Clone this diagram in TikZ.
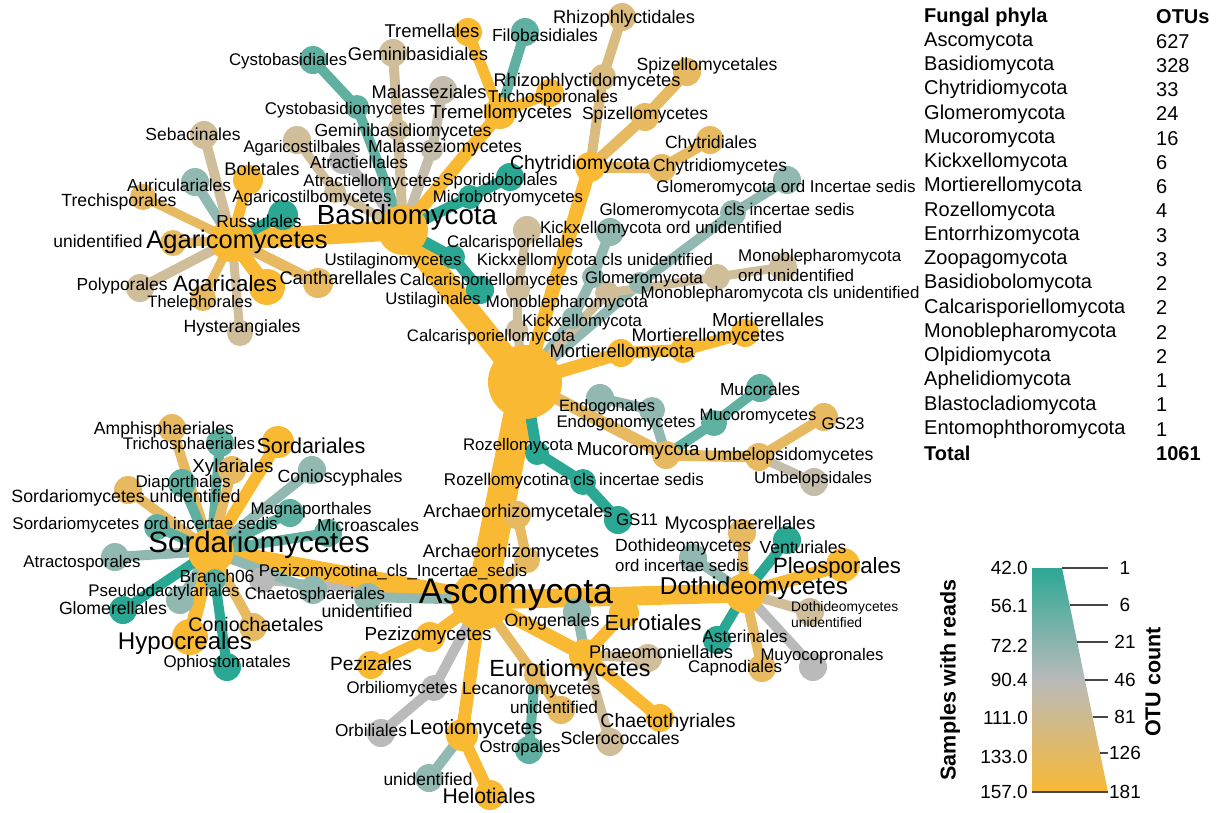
\documentclass[tikz,border=0pt]{standalone}
\usepackage{fontspec}
\usepackage{graphicx}
\setmainfont{Liberation Sans}
\definecolor{cA}{RGB}{42,168,148}
\definecolor{cB}{RGB}{95,176,160}
\definecolor{cC}{RGB}{145,184,177}
\definecolor{cD}{RGB}{186,186,186}
\definecolor{cDE}{RGB}{197,189,172}
\definecolor{cE}{RGB}{208,190,155}
\definecolor{cEF}{RGB}{218,188,128}
\definecolor{cF}{RGB}{231,186,98}
\definecolor{cG}{RGB}{249,185,50}
\definecolor{tick}{RGB}{70,70,70}
\pgfdeclarelayer{bg}
\pgfsetlayers{bg,main}
\newcommand{\TN}[5]{\node[circle,fill=#5,inner sep=0pt,minimum size=#4pt] (#1) at (#2,#3) {};}
\newcommand{\TE}[4]{\draw[line width=#4pt,#3] (#1.center) -- (#2.center);}
\newcommand{\TL}[5]{\node[inner sep=0pt] (#1) at (#2,#3) {\resizebox{#4pt}{!}{#5\vphantom{Ag}}};}
\newcommand{\TW}[5]{\node[inner sep=0pt,anchor=west] (#1) at (#2,#3) {\resizebox{#4pt}{!}{#5\vphantom{Ag}}};}
\tikzset{tb/.style={anchor=west,inner sep=0pt,font=\fontsize{20}{24}\selectfont},
  tbb/.style={tb,font=\fontsize{20}{24}\selectfont\bfseries},
  lg/.style={inner sep=0pt,font=\fontsize{19}{22}\selectfont},
  tk/.style={draw=tick,line width=1.6pt}}
\begin{document}
\begin{tikzpicture}[x=1pt,y=-1pt]
\useasboundingbox (0,0) rectangle (1217,812);
% ---------- tree nodes ----------
\TN{root}{525}{382}{74}{cG}
\TN{basi}{403}{230}{50}{cG}
\TN{asco}{481}{600}{60}{cG}
\TN{chyt}{590}{167}{30}{cG}
\TN{glom}{640}{283}{22}{cC}
\TN{kick}{573}{318}{22}{cC}
\TN{calc}{517}{330}{22}{cE}
\TN{mono}{607}{293}{24}{cE}
\TN{mort}{621}{353}{28}{cG}
\TN{muco}{666}{455}{28}{cF}
\TN{roze}{537}{453}{24}{cA}
% Basidiomycota
\TN{agcm}{232}{240}{44}{cG}
\TN{cysm}{357}{107}{24}{cB}
\TN{cysd}{313}{60}{28}{cB}
\TN{gemm}{398}{130}{22}{cE}
\TN{gemd}{393}{53}{28}{cE}
\TN{malm}{432}{150}{22}{cDE}
\TN{mald}{443}{90}{28}{cDE}
\TN{atrm}{372}{190}{24}{cD}
\TN{atrd}{343}{160}{28}{cD}
\TN{agsm}{335}{192}{22}{cE}
\TN{agsd}{297}{140}{28}{cE}
\TN{trem}{500}{113}{32}{cG}
\TN{tred}{468}{32}{28}{cG}
\TN{filo}{525}{32}{28}{cB}
\TN{tric}{550}{93}{28}{cG}
\TN{micm}{470}{197}{24}{cA}
\TN{spor}{510}{177}{28}{cA}
\TN{ustm}{453}{257}{24}{cA}
\TN{ustd}{480}{290}{28}{cA}
\TN{russ}{283}{215}{30}{cA}
\TN{bole}{248}{180}{30}{cG}
\TN{auri}{195}{182}{28}{cC}
\TN{seba}{204}{135}{28}{cE}
\TN{trec}{143}{197}{26}{cF}
\TN{agun}{173}{243}{26}{cF}
\TN{poly}{140}{288}{28}{cE}
\TN{agal}{267}{287}{36}{cG}
\TN{thel}{203}{298}{26}{cF}
\TN{hyst}{240}{333}{26}{cE}
\TN{cant}{318}{283}{30}{cF}
% Chytridiomycota
\TN{rhim}{603}{77}{26}{cEF}
\TN{rhid}{622}{17}{28}{cEF}
\TN{spim}{645}{117}{28}{cF}
\TN{spid}{687}{72}{28}{cF}
\TN{chym}{662}{168}{28}{cF}
\TN{chyd}{710}{140}{28}{cF}
% small phyla
\TN{glcl}{733}{213}{26}{cC}
\TN{glor}{787}{180}{28}{cC}
\TN{kicl}{593}{277}{22}{cC}
\TN{kior}{610}{232}{28}{cC}
\TN{cacl}{518}{290}{24}{cE}
\TN{caor}{527}{230}{28}{cE}
\TN{mocl}{717}{277}{26}{cE}
\TN{moor}{783}{267}{28}{cE}
\TN{mocm}{683}{350}{26}{cG}
\TN{mord}{745}{333}{28}{cG}
\TN{endm}{652}{410}{26}{cC}
\TN{endd}{600}{398}{28}{cC}
\TN{mucm}{714}{423}{26}{cB}
\TN{mucd}{760}{388}{28}{cB}
\TN{umbm}{759}{457}{28}{cF}
\TN{gsxx}{824}{417}{28}{cF}
\TN{umbd}{814}{482}{28}{cDE}
\TN{rozc}{583}{482}{26}{cA}
\TN{gsxi}{618}{520}{28}{cA}
% Ascomycota
\TN{arcm}{527}{560}{26}{cF}
\TN{arcd}{517}{515}{28}{cF}
\TN{sorm}{211}{551}{46}{cG}
\TN{pezc}{262}{580}{26}{cD}
\TN{asun}{368}{597}{28}{cC}
\TN{pezm}{430}{637}{30}{cG}
\TN{pezd}{371}{665}{28}{cG}
\TN{orbm}{434}{688}{26}{cD}
\TN{orbd}{381}{733}{28}{cD}
\TN{leom}{462}{735}{32}{cG}
\TN{helo}{490}{795}{30}{cG}
\TN{leun}{429}{778}{28}{cC}
\TN{lecm}{535}{675}{22}{cF}
\TN{ostr}{529}{750}{28}{cB}
\TN{leku}{561}{710}{28}{cF}
\TN{eurm}{585}{655}{32}{cG}
\TN{eurd}{624}{613}{30}{cG}
\TN{onyg}{577}{612}{28}{cC}
\TN{phae}{648}{658}{28}{cE}
\TN{chae}{660}{718}{28}{cG}
\TN{scle}{610}{742}{28}{cE}
\TN{dotm}{745}{593}{40}{cG}
\TN{myco}{742}{533}{28}{cF}
\TN{doin}{693}{558}{28}{cC}
\TN{vent}{787}{540}{28}{cA}
\TN{pleo}{843}{565}{34}{cG}
\TN{doun}{810}{612}{28}{cE}
\TN{muyo}{813}{667}{28}{cD}
\TN{capn}{762}{668}{28}{cF}
\TN{aste}{717}{640}{28}{cA}
% Sordariomycetes
\TN{amph}{172}{428}{28}{cF}
\TN{tris}{220}{443}{28}{cB}
\TN{xyla}{232}{470}{28}{cF}
\TN{sord}{278}{442}{32}{cG}
\TN{coni}{312}{470}{28}{cC}
\TN{diap}{182}{483}{28}{cB}
\TN{soun}{128}{490}{28}{cF}
\TN{magn}{290}{513}{28}{cB}
\TN{soin}{157}{527}{26}{cB}
\TN{micr}{328}{533}{28}{cB}
\TN{atrc}{115}{557}{28}{cC}
\TN{bran}{215}{580}{22}{cB}
\TN{pseu}{180}{600}{28}{cC}
\TN{chsp}{313}{590}{28}{cC}
\TN{glme}{123}{610}{28}{cA}
\TN{coch}{253}{627}{28}{cF}
\TN{hypo}{190}{637}{36}{cG}
\TN{ophi}{227}{667}{28}{cA}
% ---------- edges ----------
\begin{pgfonlayer}{bg}
\fill[white] (0,0) rectangle (1217,812);
\TE{asco}{pezc}{cD}{9}
\TE{root}{basi}{cG}{24}
\TE{root}{asco}{cG}{30}
\TE{root}{chyt}{cG}{14}
\TE{root}{glom}{cC}{10}
\TE{root}{kick}{cC}{10}
\TE{root}{calc}{cE}{9}
\TE{root}{mono}{cE}{9}
\TE{root}{mort}{cG}{13}
\TE{root}{muco}{cF}{12}
\TE{root}{roze}{cA}{11}
\TE{basi}{agcm}{cG}{20}
\TE{basi}{cysm}{cB}{10}
\TE{cysm}{cysd}{cB}{10}
\TE{basi}{gemm}{cE}{10}
\TE{gemm}{gemd}{cE}{10}
\TE{basi}{malm}{cDE}{10}
\TE{malm}{mald}{cDE}{10}
\TE{basi}{atrm}{cD}{10}
\TE{atrm}{atrd}{cD}{10}
\TE{basi}{agsm}{cE}{9}
\TE{agsm}{agsd}{cE}{9}
\TE{basi}{trem}{cG}{13}
\TE{trem}{tred}{cG}{11}
\TE{trem}{filo}{cB}{10}
\TE{trem}{tric}{cG}{11}
\TE{basi}{micm}{cA}{11}
\TE{micm}{spor}{cA}{11}
\TE{basi}{ustm}{cA}{11}
\TE{ustm}{ustd}{cA}{11}
\TE{agcm}{russ}{cA}{11}
\TE{agcm}{bole}{cG}{11}
\TE{agcm}{auri}{cC}{10}
\TE{agcm}{seba}{cE}{10}
\TE{agcm}{trec}{cF}{9}
\TE{agcm}{agun}{cF}{9}
\TE{agcm}{poly}{cE}{10}
\TE{agcm}{agal}{cG}{14}
\TE{agcm}{thel}{cF}{9}
\TE{agcm}{hyst}{cE}{9}
\TE{agcm}{cant}{cF}{11}
\TE{chyt}{rhim}{cEF}{10}
\TE{rhim}{rhid}{cEF}{10}
\TE{chyt}{spim}{cF}{11}
\TE{spim}{spid}{cF}{11}
\TE{chyt}{chym}{cF}{11}
\TE{chym}{chyd}{cF}{11}
\TE{glom}{glcl}{cC}{10}
\TE{glcl}{glor}{cC}{10}
\TE{kick}{kicl}{cC}{10}
\TE{kicl}{kior}{cC}{10}
\TE{calc}{cacl}{cE}{9}
\TE{cacl}{caor}{cE}{9}
\TE{mono}{mocl}{cE}{9}
\TE{mocl}{moor}{cE}{9}
\TE{mort}{mocm}{cG}{12}
\TE{mocm}{mord}{cG}{12}
\TE{muco}{endm}{cC}{10}
\TE{endm}{endd}{cC}{10}
\TE{muco}{mucm}{cB}{10}
\TE{mucm}{mucd}{cB}{10}
\TE{muco}{umbm}{cF}{11}
\TE{umbm}{gsxx}{cF}{10}
\TE{umbm}{umbd}{cDE}{9}
\TE{roze}{rozc}{cA}{11}
\TE{rozc}{gsxi}{cA}{11}
\TE{asco}{arcm}{cF}{10}
\TE{arcm}{arcd}{cF}{10}
\TE{asco}{sorm}{cG}{19}
\TE{asco}{asun}{cC}{10}
\TE{asco}{pezm}{cG}{12}
\TE{pezm}{pezd}{cG}{11}
\TE{asco}{orbm}{cD}{10}
\TE{orbm}{orbd}{cD}{10}
\TE{asco}{leom}{cG}{13}
\TE{leom}{helo}{cG}{12}
\TE{leom}{leun}{cC}{10}
\TE{asco}{lecm}{cF}{10}
\TE{lecm}{ostr}{cB}{10}
\TE{lecm}{leku}{cF}{10}
\TE{asco}{eurm}{cG}{14}
\TE{eurm}{eurd}{cG}{12}
\TE{eurm}{onyg}{cC}{10}
\TE{eurm}{phae}{cE}{10}
\TE{eurm}{chae}{cG}{12}
\TE{eurm}{scle}{cE}{10}
\TE{asco}{dotm}{cG}{19}
\TE{dotm}{myco}{cF}{10}
\TE{dotm}{doin}{cC}{10}
\TE{dotm}{vent}{cA}{10}
\TE{dotm}{pleo}{cG}{13}
\TE{dotm}{doun}{cE}{10}
\TE{dotm}{muyo}{cD}{10}
\TE{dotm}{capn}{cF}{10}
\TE{dotm}{aste}{cA}{10}
\TE{sorm}{amph}{cF}{10}
\TE{sorm}{tris}{cB}{10}
\TE{sorm}{xyla}{cF}{10}
\TE{sorm}{sord}{cG}{12}
\TE{sorm}{coni}{cC}{10}
\TE{sorm}{diap}{cB}{10}
\TE{sorm}{soun}{cF}{10}
\TE{sorm}{magn}{cB}{10}
\TE{sorm}{soin}{cB}{10}
\TE{sorm}{micr}{cB}{10}
\TE{sorm}{atrc}{cC}{10}
\TE{sorm}{bran}{cB}{8}
\TE{sorm}{pseu}{cC}{10}
\TE{sorm}{chsp}{cC}{10}
\TE{sorm}{glme}{cA}{10}
\TE{sorm}{coch}{cF}{10}
\TE{sorm}{hypo}{cG}{14}
\TE{sorm}{ophi}{cA}{10}
\end{pgfonlayer}
% ---------- labels ----------
\TL{Ltred}{432}{33}{95}{Tremellales}
\TL{Lfilo}{545}{37}{106}{Filobasidiales}
\TL{Lrhid}{624}{19}{142}{Rhizophlyctidales}
\TL{Lcysd}{288}{61}{118}{Cystobasidiales}
\TL{Lgemd}{418}{56}{140}{Geminibasidiales}
\TL{Lrhim}{587}{82}{187}{Rhizophlyctidomycetes}
\TL{Lspid}{707}{66}{141}{Spizellomycetales}
\TL{Lmald}{429}{94}{115}{Malasseziales}
\TL{Ltric}{553}{98}{130}{Trichosporonales}
\TL{Lcysm}{345}{110}{160}{Cystobasidiomycetes}
\TL{Ltrem}{501}{114}{142}{Tremellomycetes}
\TL{Lspim}{645}{115}{126}{Spizellomycetes}
\TL{Lseba}{193}{136}{95}{Sebacinales}
\TL{Lgemm}{403}{132}{177}{Geminibasidiomycetes}
\TL{Lchyd}{711}{144}{92}{Chytridiales}
\TL{Lagsd}{302}{148}{117}{Agaricostilbales}
\TL{Lmalm}{445}{148}{154}{Malasseziomycetes}
\TL{Latrd}{359}{164}{98}{Atractiellales}
\TL{Lchyt}{580}{164}{140}{Chytridiomycota}
\TL{Lchym}{720}{167}{134}{Chytridiomycetes}
\TL{Lbole}{262}{171}{75}{Boletales}
\TL{Latrm}{372}{182}{137}{Atractiellomycetes}
\TL{Lspor}{500}{181}{115}{Sporidiobolales}
\TL{Lglor}{786}{188}{259}{Glomeromycota ord Incertae sedis}
\TL{Lauri}{179}{187}{104}{Auriculariales}
\TL{Ltrec}{119}{202}{115}{Trechisporales}
\TL{Lagsm}{312}{198}{159}{Agaricostilbomycetes}
\TL{Lmicm}{508}{198}{150}{Microbotryomycetes}
\TL{Lglcl}{727}{211}{255}{Glomeromycota cls incertae sedis}
\TL{Lbasi}{407}{217}{180}{Basidiomycota}
\TL{Lruss}{259}{223}{85}{Russulales}
\TL{Lkior}{661}{229}{242}{Kickxellomycota ord unidentified}
\TL{Lagcm}{237}{242}{181}{Agaricomycetes}
\TL{Lagun}{98}{243}{89}{unidentified}
\TL{Lcaor}{515}{243}{136}{Calcarisporiellales}
\TW{Lmoora}{738}{257}{163}{Monoblepharomycota}
\TW{Lmoorb}{738}{277}{116}{ord unidentified}
\TL{Lustm}{393}{261}{137}{Ustilaginomycetes}
\TL{Lkicl}{595}{261}{236}{Kickxellomycota cls unidentified}
\TL{Lcacl}{489}{281}{178}{Calcarisporiellomycetes}
\TL{Lglom}{644}{279}{118}{Glomeromycota}
\TL{Lcant}{338}{280}{117}{Cantharellales}
\TL{Lagal}{225}{286}{104}{Agaricales}
\TL{Lpoly}{122}{286}{91}{Polyporales}
\TL{Lmocl}{780}{294}{279}{Monoblepharomycota cls unidentified}
\TL{Lustd}{433}{300}{95}{Ustilaginales}
\TL{Lmono}{567}{303}{162}{Monoblepharomycota}
\TL{Lthel}{200}{303}{105}{Thelephorales}
\TL{Lkick}{582}{322}{120}{Kickxellomycota}
\TL{Lhyst}{242}{328}{117}{Hysterangiales}
\TL{Lmord}{768}{322}{112}{Mortierellales}
\TL{Lcalc}{491}{337}{168}{Calcarisporiellomycota}
\TL{Lmocm}{708}{337}{153}{Mortierellomycetes}
\TL{Lmort}{622}{353}{145}{Mortierellomycota}
\TL{Lmucd}{760}{391}{80}{Mucorales}
\TL{Lendd}{607}{407}{96}{Endogonales}
\TL{Lmucm}{758}{417}{117}{Mucoromycetes}
\TL{Lendm}{626}{423}{139}{Endogonomycetes}
\TL{Lgsxx}{843}{425}{43}{GS23}
\TL{Lroze}{518}{446}{110}{Rozellomycota}
\TL{Lmuco}{638}{451}{123}{Mucoromycota}
\TL{Lumbm}{789}{456}{169}{Umbelopsidomycetes}
\TL{Lumbd}{813}{479}{118}{Umbelopsidales}
\TL{Lrozc}{574}{481}{260}{Rozellomycotina cls incertae sedis}
\TL{Larcd}{518}{513}{189}{Archaeorhizomycetales}
\TL{Lgsxi}{637}{521}{42}{GS11}
\TL{Larcm}{511}{553}{176}{Archaeorhizomycetes}
\TL{Lmyco}{740}{525}{151}{Mycosphaerellales}
\TW{Ldoina}{615}{547}{136}{Dothideomycetes}
\TW{Ldoinb}{615}{567}{133}{ord incertae sedis}
\TL{Lvent}{803}{549}{87}{Venturiales}
\TL{Lpleo}{837}{568}{128}{Pleosporales}
\TL{Ldotm}{754}{588}{188}{Dothideomycetes}
\TW{Ldouna}{791}{608}{107}{Dothideomycetes}
\TW{Ldounb}{791}{624}{71}{unidentified}
\TL{Laste}{745}{638}{85}{Asterinales}
\TL{Lmuyo}{822}{656}{123}{Muyocopronales}
\TL{Lcapn}{735}{668}{94}{Capnodiales}
\TL{Lasco}{516}{595}{194}{Ascomycota}
\TL{Lpezc}{393}{572}{268}{Pezizomycotina\_cls\_Incertae\_sedis}
\TL{Lasun}{367}{613}{91}{unidentified}
\TL{Lpezm}{428}{636}{127}{Pezizomycetes}
\TL{Lonyg}{552}{622}{95}{Onygenales}
\TL{Leurd}{653}{625}{97}{Eurotiales}
\TL{Lphae}{661}{654}{144}{Phaeomoniellales}
\TL{Lpezd}{371}{666}{82}{Pezizales}
\TL{Leurm}{570}{670}{161}{Eurotiomycetes}
\TL{Lorbm}{402}{689}{111}{Orbiliomycetes}
\TL{Llecm}{531}{690}{138}{Lecanoromycetes}
\TL{Lleku}{554}{709}{88}{unidentified}
\TL{Lchae}{668}{722}{135}{Chaetothyriales}
\TL{Lleom}{476}{729}{133}{Leotiomycetes}
\TL{Lorbd}{371}{732}{72}{Orbiliales}
\TL{Lscle}{620}{740}{119}{Sclerococcales}
\TL{Lostr}{520}{748}{81}{Ostropales}
\TL{Lleun}{428}{781}{89}{unidentified}
\TL{Lhelo}{489}{798}{93}{Helotiales}
\TL{Lamph}{164}{430}{140}{Amphisphaeriales}
\TL{Ltris}{189}{445}{132}{Trichosphaeriales}
\TL{Lsord}{311}{448}{109}{Sordariales}
\TL{Lxyla}{233}{468}{81}{Xylariales}
\TL{Lconi}{340}{478}{125}{Conioscyphales}
\TL{Ldiap}{183}{483}{95}{Diaporthales}
\TL{Lsoun}{126}{498}{229}{Sordariomycetes unidentified}
\TL{Lmagn}{311}{510}{121}{Magnaporthales}
\TL{Lsoin}{145}{525}{265}{Sordariomycetes ord incertae sedis}
\TL{Lmicr}{368}{527}{102}{Microascales}
\TL{Lsorm}{259}{545}{221}{Sordariomycetes}
\TL{Latrc}{82}{563}{117}{Atractosporales}
\TL{Lbran}{217}{578}{75}{Branch06}
\TL{Lpseu}{164}{592}{151}{Pseudodactylariales}
\TL{Lchsp}{315}{595}{140}{Chaetosphaeriales}
\TL{Lglme}{113}{610}{108}{Glomerellales}
\TL{Lcoch}{256}{626}{135}{Coniochaetales}
\TL{Lhypo}{185}{643}{134}{Hypocreales}
\TL{Lophi}{227}{663}{127}{Ophiostomatales}
% ---------- table ----------
\node[tbb] (th1) at (924,17) {Fungal phyla};
\node[tbb] (th2) at (1156,17) {OTUs};
\foreach \nm/\v [count=\i] in {Ascomycota/627,Basidiomycota/328,Chytridiomycota/33,Glomeromycota/24,Mucoromycota/16,Kickxellomycota/6,Mortierellomycota/6,Rozellomycota/4,Entorrhizomycota/3,Zoopagomycota/3,Basidiobolomycota/2,Calcarisporiellomycota/2,Monoblepharomycota/2,Olpidiomycota/2,Aphelidiomycota/1,Blastocladiomycota/1,Entomophthoromycota/1}{
  \node[tb] (tn\i) at (924,17+24.25*\i) {\nm};
  \node[tb] (tv\i) at (1156,17+24.25*\i) {\v};
}
\node[tbb] (tt1) at (924,453.5) {Total};
\node[tbb] (tt2) at (1156,453.5) {1061};
% ---------- legend ----------
\coordinate (lgTL) at (1032,568);
\coordinate (lgTR) at (1062,568);
\coordinate (lgBR) at (1108,792);
\coordinate (lgBL) at (1032,792);
\begin{scope}
\clip (lgTL) -- (lgTR) -- (lgBR) -- (lgBL) -- cycle;
\shade[top color=cA,bottom color=cD] (1030,566) rectangle (1110,680.5);
\shade[top color=cD,bottom color=cG] (1030,680) rectangle (1110,794);
\end{scope}
\coordinate (k1a) at (1062,568);   \coordinate (k1b) at (1108,568);
\coordinate (k2a) at (1069.6,605); \coordinate (k2b) at (1108,605);
\coordinate (k3a) at (1077,642);   \coordinate (k3b) at (1108,642);
\coordinate (k4a) at (1085,680);   \coordinate (k4b) at (1108,680);
\coordinate (k5a) at (1092.6,717); \coordinate (k5b) at (1108,717);
\coordinate (k6a) at (1100,753);   \coordinate (k6b) at (1108,753);
\draw[tk] (k1a) -- (k1b);
\draw[tk] (k2a) -- (k2b);
\draw[tk] (k3a) -- (k3b);
\draw[tk] (k4a) -- (k4b);
\draw[tk] (k5a) -- (k5b);
\draw[tk] (k6a) -- (k6b);
\draw[tk] (lgBL) -- (lgBR);
\node[lg,anchor=east] (s1) at (1028,568) {42.0};
\node[lg,anchor=east] (s2) at (1028,606) {56.1};
\node[lg,anchor=east] (s3) at (1028,646) {72.2};
\node[lg,anchor=east] (s4) at (1028,680) {90.4};
\node[lg,anchor=east] (s5) at (1028,718) {111.0};
\node[lg,anchor=east] (s6) at (1028,757) {133.0};
\node[lg,anchor=east] (s7) at (1028,792) {157.0};
\node[lg] (o1) at (1125,568) {1};
\node[lg] (o2) at (1125,605) {6};
\node[lg] (o3) at (1125,642) {21};
\node[lg] (o4) at (1125,680) {46};
\node[lg] (o5) at (1125,717) {81};
\node[lg] (o6) at (1125,753) {126};
\node[lg] (o7) at (1125,792) {181};
\node[inner sep=0pt,rotate=90,font=\fontsize{21.5}{24}\selectfont\bfseries] (tsam) at (950,680) {Samples with reads};
\node[inner sep=0pt,rotate=90,font=\fontsize{21.5}{24}\selectfont\bfseries] (totu) at (1153,682) {OTU count};
\end{tikzpicture}
\end{document}
